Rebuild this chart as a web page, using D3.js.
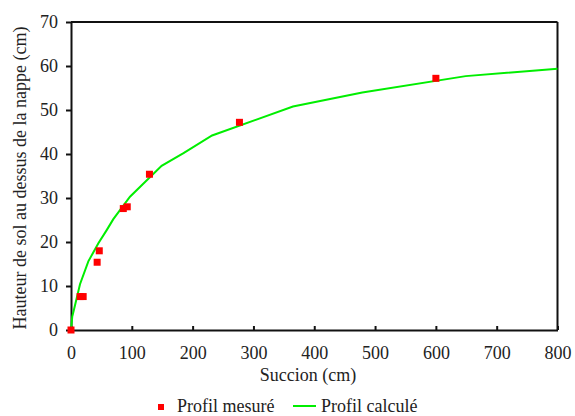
<!DOCTYPE html>
<html><head><meta charset="utf-8">
<script src="https://cdn.jsdelivr.net/npm/d3@7/dist/d3.min.js"></script>
<style>body{margin:0;background:#fff}svg{display:block}</style>
</head><body><svg id="c" width="575" height="416"></svg>
<script>
const measuredX = [0, 15, 20, 43, 46.5, 86, 92.5, 129, 277, 600];
const measuredY = [0, 7.6, 7.6, 15.4, 18.0, 27.6, 28.0, 35.4, 47.2, 57.2];
const calcX = [0, 2, 6.6, 14.8, 28.5, 45, 58.7, 69.6, 97, 149, 185, 232, 365, 479, 649, 800];
const calcY = [0, 3.0, 5.6, 10.4, 15.6, 19.7, 22.7, 25.2, 30.3, 37.3, 40.2, 44.2, 50.8, 54.0, 57.7, 59.4];
const xTicks = [0, 100, 200, 300, 400, 500, 600, 700, 800];
const yTicks = [0, 10, 20, 30, 40, 50, 60, 70];
const xTitle = "Succion (cm)";
const yTitle = "Hauteur de sol au dessus de la nappe (cm)";
const legendLabels = ["Profil mesuré", "Profil calculé"];

const FONT = "Liberation Serif";
const FS = 18;
const svg = d3.select("#c");
const L = 71, R = 557.5, T = 22, B = 330;
const x = d3.scaleLinear().domain([0, 800]).range([L, R]);
const y = d3.scaleLinear().domain([0, 70]).range([B, T]);

function styleText(sel) {
  return sel.attr("font-family", FONT).attr("font-size", FS).attr("fill", "#222");
}

svg.append("line").attr("x1", L).attr("x2", R).attr("y1", T).attr("y2", T).attr("stroke", "#111").attr("stroke-width", 2);
svg.append("line").attr("x1", R).attr("x2", R).attr("y1", T).attr("y2", B).attr("stroke", "#111").attr("stroke-width", 2);

const xAxis = svg.append("g").attr("transform", `translate(0,${B})`)
  .call(d3.axisBottom(x).tickValues(xTicks).tickSizeInner(-4).tickSizeOuter(0).tickPadding(16));
const yAxis = svg.append("g").attr("transform", `translate(${L},0)`)
  .call(d3.axisLeft(y).tickValues(yTicks).tickSizeInner(5).tickSizeOuter(0).tickPadding(8));
[xAxis, yAxis].forEach(g => {
  g.attr("font-family", FONT).attr("font-size", FS);
  g.select(".domain").attr("stroke", "#111").attr("stroke-width", 2);
  g.selectAll(".tick line").attr("stroke", "#111").attr("stroke-width", 2);
  styleText(g.selectAll(".tick text"));
});
xAxis.selectAll(".tick text").attr("dy", "0.71em");

const curveData = calcX.map((v, i) => [v, calcY[i]]);
svg.append("path").datum(curveData)
  .attr("d", d3.line().x(d => x(d[0])).y(d => y(d[1])))
  .attr("fill", "none").attr("stroke", "#00ee00").attr("stroke-width", 2);

const pts = measuredX.map((v, i) => [v, measuredY[i]]);
svg.append("g").selectAll("rect").data(pts).join("rect")
  .attr("x", d => x(d[0]) - 3.5).attr("y", d => y(d[1]) - 3.5)
  .attr("width", 7).attr("height", 7).attr("fill", "#ff0000");

styleText(svg.append("text").attr("x", 308).attr("y", 381).attr("text-anchor", "middle").text(xTitle));
styleText(svg.append("text").attr("transform", "translate(26,178) rotate(-90)").attr("text-anchor", "middle").text(yTitle));

svg.append("rect").attr("x", 158).attr("y", 404).attr("width", 6).attr("height", 6).attr("fill", "#ff0000");
styleText(svg.append("text").attr("x", 177).attr("y", 412).text(legendLabels[0]));
svg.append("line").attr("x1", 293).attr("x2", 316).attr("y1", 406).attr("y2", 406).attr("stroke", "#00ee00").attr("stroke-width", 2);
styleText(svg.append("text").attr("x", 321).attr("y", 412).text(legendLabels[1]));
</script></body></html>
